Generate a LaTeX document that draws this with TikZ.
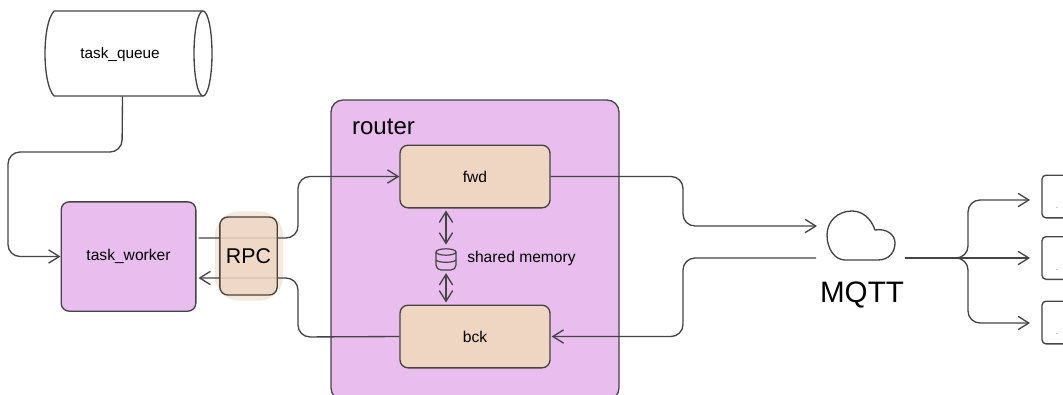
\documentclass[tikz,border=0pt]{standalone}
\usepackage{fontspec}
\setmainfont{Liberation Sans}
\usetikzlibrary{arrows.meta}
\pgfdeclarelayer{background}
\pgfdeclarelayer{foreground}
\pgfsetlayers{background,main,foreground}
\definecolor{lilac}{HTML}{E9BDEE}
\definecolor{sand}{HTML}{EFD6C3}
\definecolor{halo}{HTML}{F5E9DD}
\definecolor{ink}{HTML}{444444}
\tikzstyle{box}=[draw=ink, line width=1pt, rounded corners=6pt, inner sep=0pt]
\tikzstyle{worker}=[box, fill=lilac, font=\fontsize{11.7}{14}\selectfont]
\tikzstyle{stage}=[box, fill=sand, minimum width=112.5pt, minimum height=47pt, font=\fontsize{11.7}{14}\selectfont]
\tikzstyle{client}=[box, rounded corners=3pt, minimum width=36pt, minimum height=32pt]
\tikzstyle{conn}=[draw=ink, line width=1pt, rounded corners=9pt, >={Straight Barb[length=8pt,width=10pt]}]
\tikzstyle{dot}=[inner sep=0pt, font=\fontsize{5}{6}\selectfont, text=ink]

\begin{document}
\begin{tikzpicture}[x=0.75pt,y=-0.75pt]
  \useasboundingbox (0,0) rectangle (1063,394);

  \node[inner sep=0pt, minimum width=125pt, minimum height=64pt] at (128.5, 53.5) (queue) {};
  \node[inner sep=0pt, font=\fontsize{11.5}{14}\selectfont] at (120, 54.5) (queuelabel) {task\_queue};
  \node[worker, minimum width=101pt, minimum height=82pt] at (128.5, 256.5) (worker) {task\_worker};
  \node[stage] at (475, 176.5) (fwd) {fwd};
  \node[stage] at (475, 336.5) (bck) {bck};
  \node[inner sep=0pt, minimum width=15pt, minimum height=16pt] at (446, 259.5) (mem) {};
  \node[anchor=west, inner sep=0pt, font=\fontsize{11.7}{14}\selectfont] at (467, 258) (memlabel) {shared memory};
  \node[inner sep=0pt, font=\fontsize{18}{22}\selectfont] at (383.5, 127) (routerlabel) {router};
  \node[inner sep=0pt, font=\fontsize{22.2}{26}\selectfont] at (862, 295) (mqtt) {MQTT};

  \node[client] at (1066, 196.5) (out1) {};
  \node[client] at (1066, 258) (out2) {};
  \node[client] at (1066, 322.5) (out3) {};
  \node[dot] at (1057, 208) (dot1) {.};
  \node[dot] at (1057, 270) (dot2) {.};
  \node[dot] at (1057, 334) (dot3) {.};

  % queue drum
  \draw[ink, line width=1pt] (54,11) -- (203,11) (54,96) -- (203,96)
    (54,11) .. controls (42,24) and (42,83) .. (54,96);
  \draw[ink, line width=1pt] (203,53.5) ellipse[x radius=9, y radius=42.5];

  % cloud
  \coordinate (cloudin) at (817, 226);
  \coordinate (cloudback) at (816, 258);
  \coordinate (cloudout) at (905, 258);
  \coordinate (split) at (958, 258);
  \coordinate (tip1) at (1030, 200);
  \coordinate (tip2) at (1030, 258);
  \coordinate (tip3) at (1030, 323);
  \draw[ink, line width=1pt] (845,260) -- (878,260) .. controls (889,260) and (895,252) .. (895,243)
    .. controls (895,235) and (887,228) .. (875,230) .. controls (871,218) and (862,211) .. (852,211)
    .. controls (838,211) and (827,221) .. (827,235) .. controls (827,249) and (835,260) .. (845,260);

  % database icon
  \draw[ink, line width=0.9pt, rounded corners=1.5pt] (436,252) -- (436,267) -- (439,270) -- (453,270) -- (456,267) -- (456,252);
  \draw[ink, line width=0.9pt] (446,252) ellipse[x radius=10, y radius=3.2];
  \draw[ink, line width=0.9pt] (436,260) .. controls (438,263) and (454,263) .. (456,260);

  \draw[conn,->] ([xshift=-4.5pt]queue.south) -- (122,152) -- (8,152) -- (8,256.5) -- (worker.west);
  \draw[conn,->] (worker.east |- 0,238) ++(2,0) -- (298,238) -- (298,176.5) -- (fwd.west);
  \draw[conn,<-] (worker.east |- 0,278) ++(2,0) -- (298,278) -- (298,337) -- (bck.west);
  \draw[conn,->] (fwd.east) -- (683,176.5) -- (683,226) -- (cloudin);
  \draw[conn,<-] (bck.east) ++(1,0) -- (683,336.5) -- (683,258) -- (cloudback);
  \draw[conn,<->] ([yshift=-1.5pt]mem.north |- fwd.south) -- ([yshift=3pt]mem.north);
  \draw[conn,<->] ([yshift=-2pt]mem.south) -- ([yshift=1.5pt]mem.north |- bck.north);
  \draw[conn, line width=1.4pt] (cloudout) -- (split);
  \draw[conn,->] (split) -- (tip2);
  \draw[conn,->] (split) -- ++(10,0) -- (968,200) -- (tip1);
  \draw[conn,->] (split) -- ++(10,0) -- (968,323) -- (tip3);

  \begin{pgfonlayer}{background}
    \node[fill=halo, rounded corners=18pt, minimum width=51pt, minimum height=67pt, inner sep=0pt] at (249, 256) (rpchalo) {};
    \node[box, fill=lilac, rounded corners=9pt, minimum width=216pt, minimum height=225pt] at (475, 250) (router) {};
  \end{pgfonlayer}

  \begin{pgfonlayer}{foreground}
    \node[box, fill=sand, fill opacity=0.85, text opacity=1, minimum width=43pt, minimum height=58.5pt, font=\fontsize{16}{19}\selectfont] at (248.5, 256) (rpc) {RPC};
  \end{pgfonlayer}
\end{tikzpicture}
\end{document}
